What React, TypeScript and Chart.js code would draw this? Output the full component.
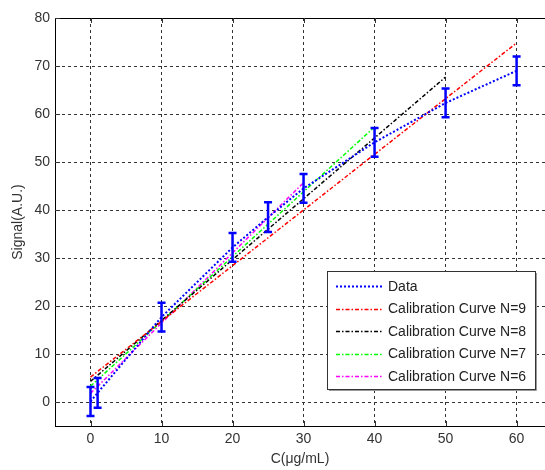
import React, { useEffect, useRef } from "react";
import { Chart, registerables } from "chart.js";

Chart.register(...registerables);

const concentrations = [0, 1, 10, 20, 25, 30, 40, 50, 60];
const signalMean = [0.1, 1.9, 17.7, 32.2, 38.5, 44.5, 54.1, 62.3, 69.0];
const signalErr = [3.0, 3.1, 3.0, 3.0, 3.1, 3.0, 3.0, 3.0, 3.0];

const curve9X = [0, 60];
const curve9Y = [5.2, 74.8];
const curve8X = [0, 50];
const curve8Y = [4.3, 67.7];
const curve7X = [0, 40];
const curve7Y = [3.3, 57.3];
const curve6X = [0, 30];
const curve6Y = [1.8, 45.7];

const xTicks = [0, 10, 20, 30, 40, 50, 60];
const yTicks = [0, 10, 20, 30, 40, 50, 60, 70, 80];

const FONT = "'Liberation Sans', Arial, Helvetica, sans-serif";

const pts = (xs: number[], ys: number[]) => xs.map((x, i) => ({ x, y: ys[i] }));

const DASH_DOT = [4, 2, 1.5, 2];
const DOTTED = [2, 2];

const decorPlugin = {
  id: "decor",
  afterDatasetsDraw(chart: any) {
    const ctx = chart.ctx;
    const xs = chart.scales.x;
    const ys = chart.scales.y;
    ctx.save();
    ctx.strokeStyle = "#0000ff";
    ctx.lineWidth = 2.5;
    concentrations.forEach((c, i) => {
      const px = xs.getPixelForValue(c);
      const lo = ys.getPixelForValue(signalMean[i] - signalErr[i]);
      const hi = ys.getPixelForValue(signalMean[i] + signalErr[i]);
      ctx.beginPath();
      ctx.moveTo(px, lo);
      ctx.lineTo(px, hi);
      ctx.moveTo(px - 4, lo);
      ctx.lineTo(px + 4, lo);
      ctx.moveTo(px - 4, hi);
      ctx.lineTo(px + 4, hi);
      ctx.stroke();
    });
    ctx.restore();
  },
  afterDraw(chart: any) {
    const ctx = chart.ctx;
    const xs = chart.scales.x;
    const ys = chart.scales.y;
    const ca = chart.chartArea;
    ctx.save();
    ctx.strokeStyle = "#000";
    ctx.lineWidth = 1;
    ctx.beginPath();
    ctx.moveTo(ca.left, Math.round(ca.top) + 0.5);
    ctx.lineTo(ca.right, Math.round(ca.top) + 0.5);
    ctx.stroke();
    ctx.strokeStyle = "#333";
    ctx.beginPath();
    xTicks.forEach((v) => {
      const px = Math.round(xs.getPixelForValue(v)) + 0.5;
      ctx.moveTo(px, ca.bottom);
      ctx.lineTo(px, ca.bottom - 5);
      ctx.moveTo(px, ca.top);
      ctx.lineTo(px, ca.top + 5);
    });
    yTicks.forEach((v) => {
      const py = Math.round(ys.getPixelForValue(v)) + 0.5;
      ctx.moveTo(ca.left, py);
      ctx.lineTo(ca.left + 5, py);
    });
    ctx.stroke();

    // legend
    const bx = 327.5, by = 271.5, bw = 208, bh = 118;
    ctx.fillStyle = "#fff";
    ctx.fillRect(bx, by, bw, bh);
    ctx.strokeStyle = "#999";
    ctx.lineWidth = 1;
    ctx.beginPath();
    ctx.moveTo(bx + 1.5, by + bh + 1);
    ctx.lineTo(bx + bw + 1, by + bh + 1);
    ctx.lineTo(bx + bw + 1, by + 1.5);
    ctx.stroke();
    ctx.strokeStyle = "#333";
    ctx.strokeRect(bx, by, bw, bh);
    ctx.font = `14px ${FONT}`;
    ctx.textBaseline = "middle";
    ctx.textAlign = "left";
    chart.data.datasets.forEach((ds: any, i: number) => {
      const cy = 286 + i * 22.5;
      ctx.strokeStyle = ds.borderColor;
      ctx.lineWidth = ds.borderWidth;
      ctx.setLineDash(ds.borderDash || []);
      ctx.beginPath();
      ctx.moveTo(336, Math.round(cy) + 0.5);
      ctx.lineTo(383, Math.round(cy) + 0.5);
      ctx.stroke();
      ctx.setLineDash([]);
      ctx.fillStyle = "#222";
      ctx.fillText(ds.label, 388, cy + 1);
    });
    ctx.restore();
  },
};

export default function App() {
  const ref = useRef<HTMLCanvasElement | null>(null);
  useEffect(() => {
    if (!ref.current) return;
    const chart = new Chart(ref.current, {
      type: "line",
      data: {
        datasets: [
          {
            label: "Data",
            data: pts(concentrations, signalMean),
            borderColor: "#0000ff",
            borderWidth: 2,
            borderDash: DOTTED,
            pointRadius: 0,
            fill: false,
          },
          {
            label: "Calibration Curve N=9",
            data: pts(curve9X, curve9Y),
            borderColor: "#ff0000",
            borderWidth: 1.5,
            borderDash: DASH_DOT,
            pointRadius: 0,
            fill: false,
          },
          {
            label: "Calibration Curve N=8",
            data: pts(curve8X, curve8Y),
            borderColor: "#000000",
            borderWidth: 1.5,
            borderDash: DASH_DOT,
            pointRadius: 0,
            fill: false,
          },
          {
            label: "Calibration Curve N=7",
            data: pts(curve7X, curve7Y),
            borderColor: "#00ff00",
            borderWidth: 1.5,
            borderDash: DASH_DOT,
            pointRadius: 0,
            fill: false,
          },
          {
            label: "Calibration Curve N=6",
            data: pts(curve6X, curve6Y),
            borderColor: "#ff00ff",
            borderWidth: 1.5,
            borderDash: DASH_DOT,
            pointRadius: 0,
            fill: false,
          },
        ],
      },
      options: {
        animation: false,
        responsive: false,
        devicePixelRatio: 1,
        layout: { padding: { top: 18, left: 0, right: 0, bottom: 0 } },
        plugins: { legend: { display: false }, tooltip: { enabled: false } },
        scales: {
          x: {
            type: "linear",
            min: -5,
            max: 64,
            afterBuildTicks: (s: any) => {
              s.ticks = xTicks.map((v) => ({ value: v }));
            },
            afterFit: (s: any) => {
              s.height = 44;
            },
            grid: { color: "#333", lineWidth: 1, drawTicks: false },
            border: { display: true, color: "#000", width: 1, dash: [3, 3] },
            ticks: { padding: 5, color: "#333", font: { size: 14, family: FONT } },
            title: {
              display: true,
              text: "C(μg/mL)",
              color: "#333",
              font: { size: 14, family: FONT },
              padding: { top: 0, bottom: 2 },
            },
          },
          y: {
            type: "linear",
            min: -5,
            max: 80,
            afterBuildTicks: (s: any) => {
              s.ticks = yTicks.map((v) => ({ value: v }));
            },
            afterFit: (s: any) => {
              s.width = 55;
            },
            grid: { color: "#333", lineWidth: 1, drawTicks: false },
            border: { display: true, color: "#000", width: 1, dash: [3, 3] },
            ticks: { padding: 5, color: "#333", font: { size: 14, family: FONT } },
            title: {
              display: true,
              text: "Signal(A.U.)",
              color: "#333",
              font: { size: 14, family: FONT },
              padding: { top: 10, bottom: 0 },
            },
          },
        },
      },
      plugins: [decorPlugin],
    } as any);
    return () => chart.destroy();
  }, []);
  return (
    <div style={{ position: "absolute", left: 0, top: 0, width: 545, height: 470, background: "#fff" }}>
      <canvas ref={ref} width={545} height={470} style={{ display: "block" }} />
    </div>
  );
}
